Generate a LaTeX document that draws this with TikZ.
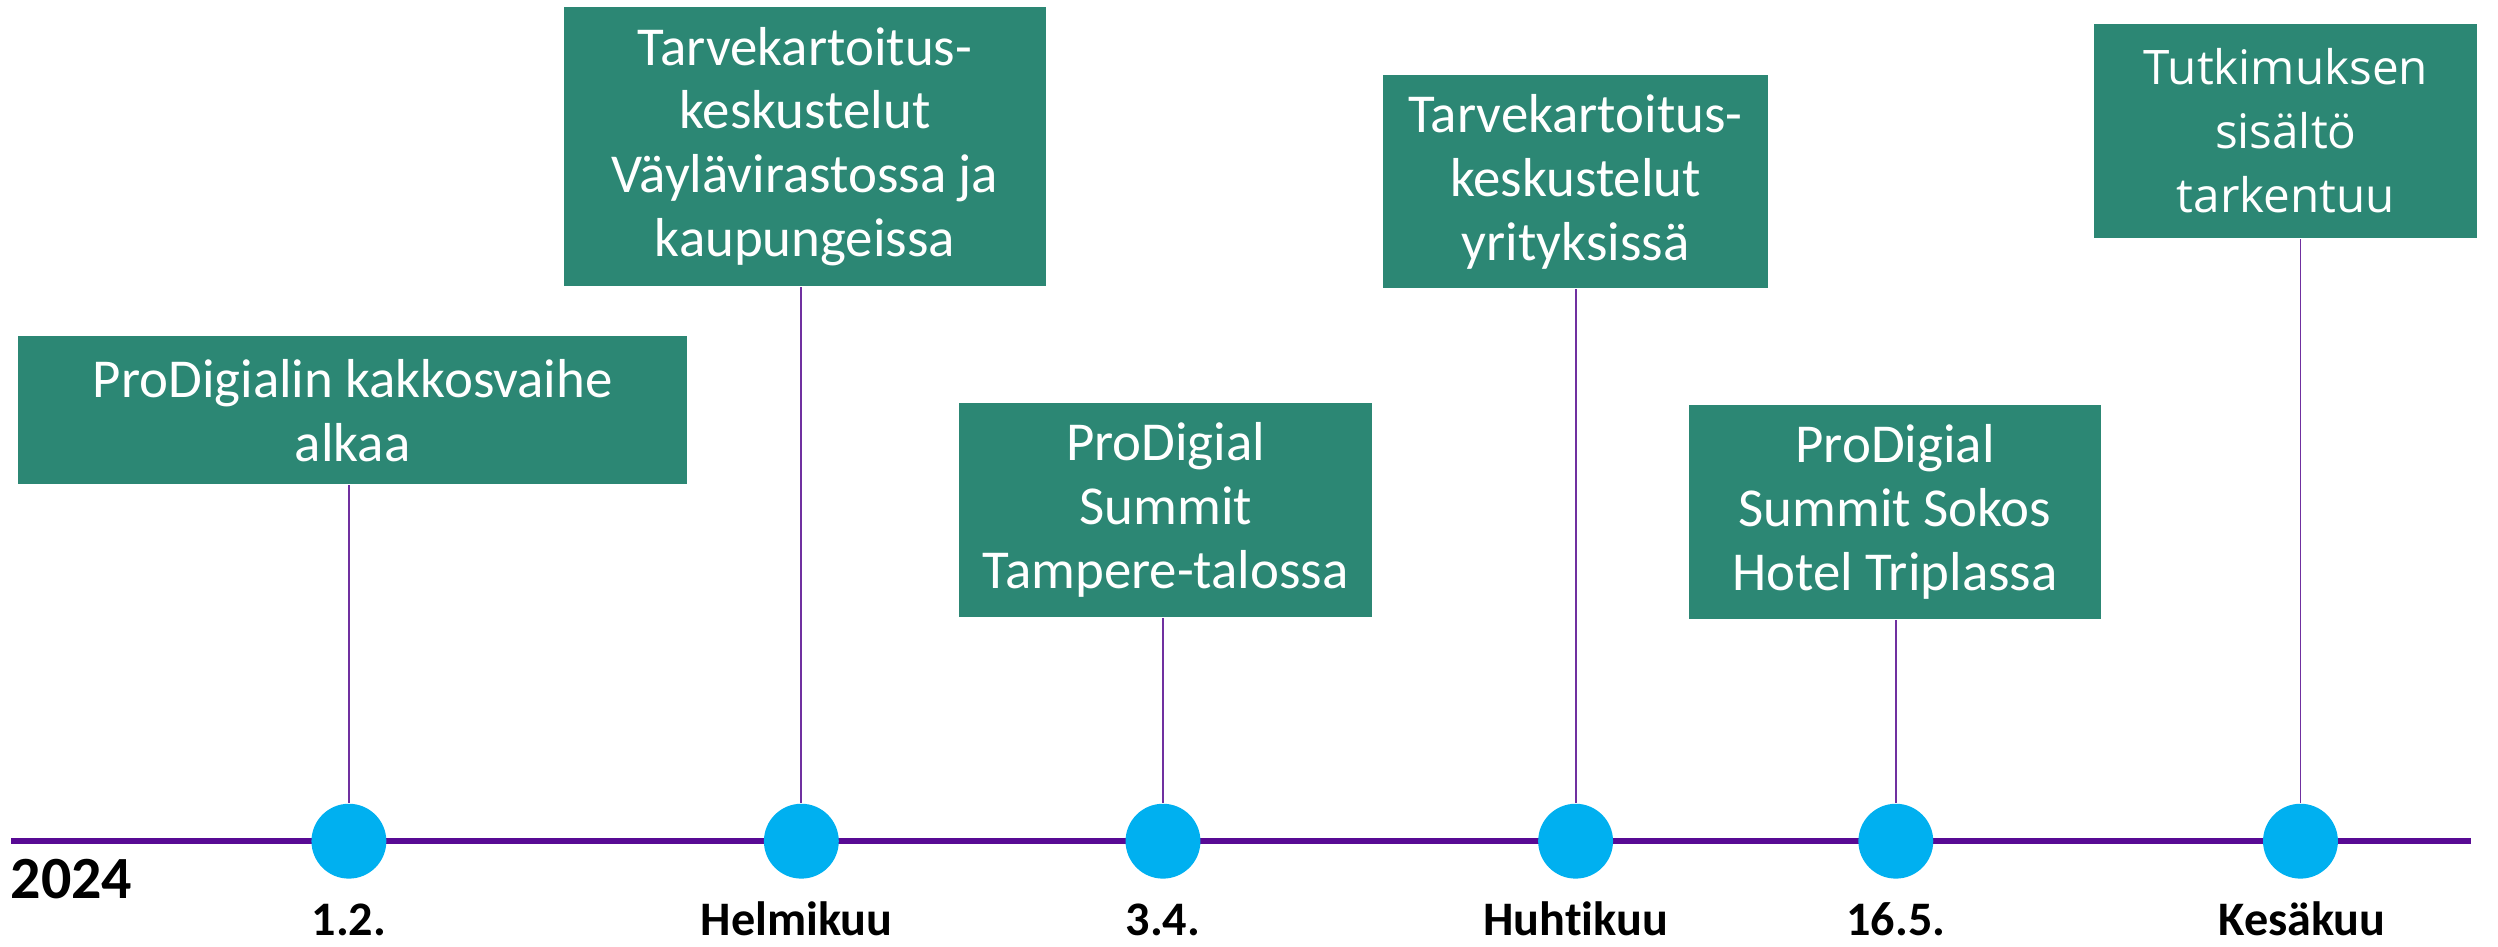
\documentclass[tikz,border=0pt]{standalone}
\usepackage{fontspec}
\setmainfont{Carlito}[Ligatures=NoCommon]
\newfontfamily\opensans{Open Sans}
\usepackage{tikz}
\definecolor{boxgreen}{RGB}{44,135,116}
\definecolor{dotblue}{RGB}{0,176,240}
\definecolor{axisviolet}{RGB}{88,10,148}
\definecolor{stemviolet}{RGB}{112,48,160}

\begin{document}
\begin{tikzpicture}[line join=bevel,
  event/.style={fill=boxgreen, text=white, inner sep=0pt, align=center, font=\fontsize{9.8}{11.4}\selectfont},
  dot/.style={circle, fill=dotblue, inner sep=0pt, minimum size=0.47cm},
  stem/.style={draw=stemviolet, line width=0.35pt},
  month/.style={anchor=base, font=\fontsize{8.6}{10}\selectfont\bfseries}]

\useasboundingbox (0,0) rectangle (15.68,-5.94);

\node[event, minimum width=4.20cm, minimum height=0.93cm] (ev1) at (2.214,-2.575) {ProDigialin kakkosvaihe\\alkaa};
\node[event, minimum width=3.03cm, minimum height=1.75cm] (ev2) at (5.053,-0.92) {Tarvekartoitus-\\keskustelut\\Väylävirastossa ja\\kaupungeissa};
\node[event, minimum width=2.59cm, minimum height=1.34cm] (ev3) at (7.317,-3.20) {ProDigial\\Summit\\Tampere-talossa};
\node[event, minimum width=2.42cm, minimum height=1.34cm] (ev4) at (9.89,-1.14) {Tarvekartoitus-\\keskustelut\\yrityksissä};
\node[event, minimum width=2.59cm, minimum height=1.346cm] (ev5) at (11.895,-3.213) {ProDigial\\Summit Sokos\\Hotel Triplassa};
\node[event, minimum width=2.405cm, minimum height=1.342cm, font=\opensans\fontsize{8.5}{11.4}\selectfont] (ev6) at (14.348,-0.821) {Tutkimuksen\\sisältö\\tarkentuu};

\coordinate (start) at (0.07,-5.28);
\coordinate (end) at (15.51,-5.28);
\draw[axisviolet, line width=1.02pt] (start) -- (end);

\node[dot] (dot1) at (2.19,-5.28) {};
\node[dot] (dot2) at (5.03,-5.28) {};
\node[dot] (dot3) at (7.30,-5.28) {};
\node[dot] (dot4) at (9.89,-5.28) {};
\node[dot] (dot5) at (11.90,-5.28) {};
\node[dot] (dot6) at (14.44,-5.28) {};

\draw[stem] (dot1.north) -- (dot1.north |- ev1.south);
\draw[stem] (dot2.north) -- (dot2.north |- ev2.south);
\draw[stem] (dot3.north) -- (dot3.north |- ev3.south);
\draw[stem] (dot4.north) -- (dot4.north |- ev4.south);
\draw[stem] (dot5.north) -- (dot5.north |- ev5.south);
\draw[stem] (dot6.north) -- (dot6.north |- ev6.south);

\node[anchor=base west, inner sep=0pt, font=\fontsize{10.7}{13}\selectfont\bfseries] (year) at (0.06,-5.638) {2024};
\node[month] (m1) at (2.19,-5.875) {1.2.};
\node[month] (m2) at (5.00,-5.875) {Helmikuu};
\node[month] (m3) at (7.30,-5.875) {3.4.};
\node[month] (m4) at (9.89,-5.875) {Huhtikuu};
\node[month] (m5) at (11.90,-5.875) {16.5.};
\node[month] (m6) at (14.45,-5.87) {Kesäkuu};
\end{tikzpicture}
\end{document}
